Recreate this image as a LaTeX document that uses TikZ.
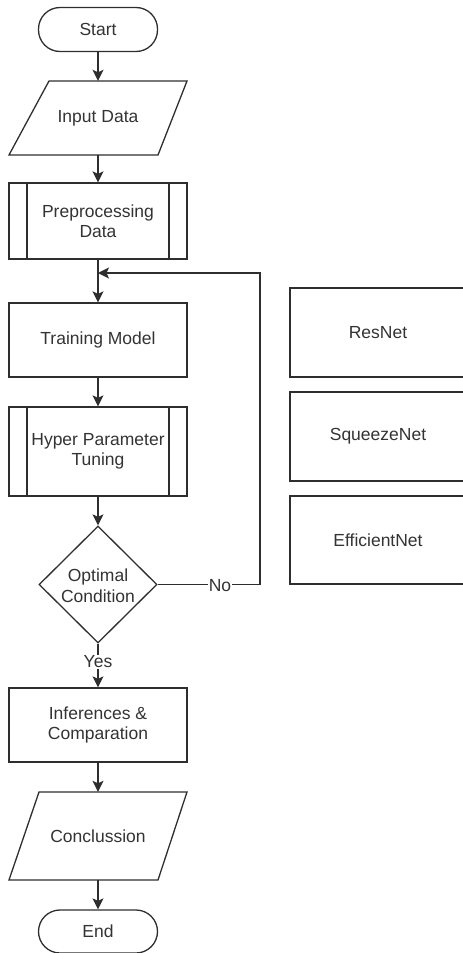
\documentclass[tikz,border=0pt]{standalone}
\usepackage{fontspec}
\setmainfont{Liberation Sans}
\usetikzlibrary{shapes.geometric,arrows.meta}
\definecolor{ink}{HTML}{2E2E2E}
\definecolor{txt}{HTML}{333333}
\begin{document}
\begin{tikzpicture}[x=1pt,y=-1pt,
  every node/.style={font=\fontsize{17.5}{20.5}\selectfont, text=txt},
  line/.style={draw=ink, line width=1.3pt},
  arr/.style={line, -{Stealth[length=11pt,width=11pt,inset=2.5pt]}},
  procbox/.style={line, rectangle, minimum width=178pt, inner sep=0pt, align=center},
  ghost/.style={rectangle, minimum width=178pt, inner sep=0pt, align=center},
  term/.style={line, rectangle, rounded corners=21.5pt, minimum width=119pt, inner sep=0pt},
  modelbox/.style={line, rectangle, minimum width=176pt, inner sep=0pt},
  lbl/.style={fill=white, inner sep=1pt}]
\useasboundingbox (0,0) rectangle (463,953);
\clip (0,0) rectangle (463,953);

% Start
\node[term, minimum height=44pt] (start) at (98,29.5) {Start};
% Input Data
\node[ghost, minimum height=74pt] (input) at (98,118) {Input Data};
\draw[line] (49,81) -- (187,81) -- (158,155) -- (9,155) -- cycle;
% Preprocessing
\node[procbox, minimum height=76pt] (prep) at (98,221) {Preprocessing\\Data};
\draw[line] (27,183) -- (27,259) (169,183) -- (169,259);
% Training
\node[procbox, minimum height=74pt] (train) at (98,340) {Training Model};
% Hyper
\node[procbox, minimum height=89pt] (hyper) at (98,451.5) {Hyper Parameter\\Tuning};
\draw[line] (27,407) -- (27,496) (169,407) -- (169,496);
% Condition
\node[line, diamond, minimum width=118pt, minimum height=117pt, inner sep=0pt] (cond) at (98,584.5) {};
\node[align=center] (condtext) at (98,585.5) {Optimal\\Condition};
% Inferences
\node[procbox, minimum height=74pt] (infer) at (98,725) {Inferences \&\\Comparation};
% Conclussion
\node[ghost, minimum height=88pt] (concl) at (98,836) {Conclussion};
\draw[line] (39,792) -- (187,792) -- (158,880) -- (9,880) -- cycle;
% End
\node[term, minimum height=43pt] (end) at (98,931.5) {End};

% Model boxes
\node[modelbox, minimum height=89pt] (resnet) at (378,332.5) {ResNet};
\node[modelbox, minimum height=89pt] (squeeze) at (378,436.5) {SqueezeNet};
\node[modelbox, minimum height=88pt] (effnet) at (378,540) {EfficientNet};

% Connectors
\draw[arr] (start.south) -- (input.north);
\draw[arr] (input.south) -- (prep.north);
\draw[arr] (prep.south) -- (train.north);
\draw[arr] (train.south) -- (hyper.north);
\draw[arr] (hyper.south) -- (cond.north);
\coordinate (loopR) at (260,273);
\coordinate (loopJ) at (98,273);
\draw[arr] (cond.east) -- (260,584.5) -- (loopR) -- (loopJ);
\node[lbl] (no) at (220,586) {No};
\draw[arr] (cond.south) -- (infer.north);
\node[lbl] (yes) at (98,662) {Yes};
\draw[arr] (infer.south) -- (concl.north);
\draw[arr] (concl.south) -- (end.north);
\end{tikzpicture}
\end{document}
